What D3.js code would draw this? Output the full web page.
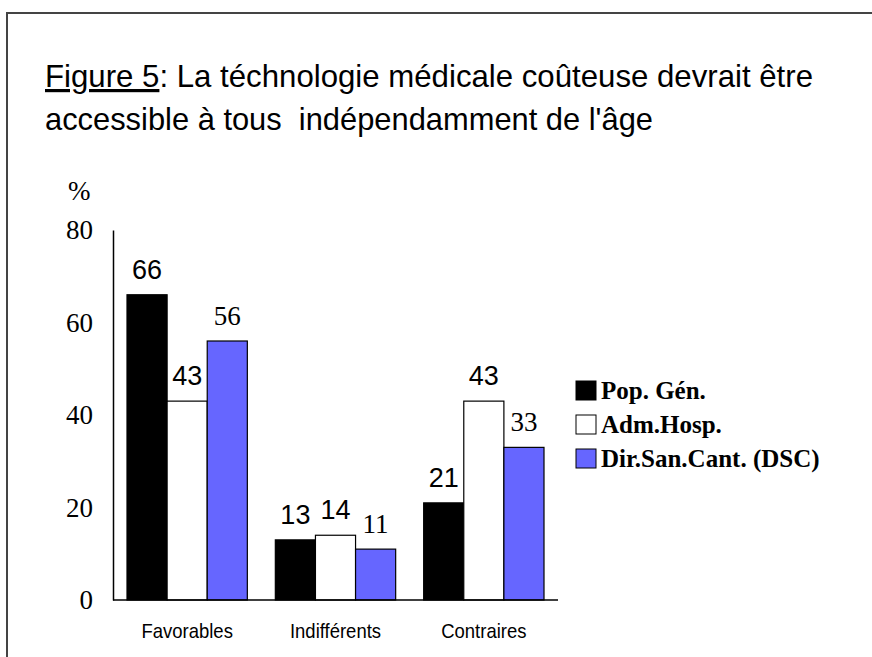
<!DOCTYPE html>
<head>
  <meta charset="utf-8">
  <title>Figure 5</title>
  <style>
    body { margin: 0; background: #fff; }
    svg { display: block; }
  </style>
</head>
<body>
<svg width="872" height="657"></svg>
<script src="https://d3js.org/d3.v7.min.js"></script>
<script>

var categories = ["Favorables", "Indifférents", "Contraires"];
var seriesNames = ["Pop. Gén.", "Adm.Hosp.", "Dir.San.Cant. (DSC)"];
var popGen = [66, 13, 21];
var admHosp = [43, 14, 43];
var dirSan = [56, 11, 33];
var yTicks = [0, 20, 40, 60, 80];

var colors = ["#000000", "#ffffff", "#6666ff"];
// the value labels of the last series are drawn in a serif font in the original
var labelFonts = ["'Liberation Sans', Arial, sans-serif", "'Liberation Sans', Arial, sans-serif", "'Liberation Serif', 'Times New Roman', serif"];

var values = [popGen, admHosp, dirSan];

var svg = d3.select("svg");

// frame (only top and left edges are visible)
svg.append("path")
  .attr("d", "M7,657 V13 H872")
  .attr("fill", "none")
  .attr("stroke", "#444")
  .attr("stroke-width", 2);

// title - narrow font in the original, so squeeze a normal one
var title = svg.append("g")
  .style("font-family", "'Liberation Sans', Arial, sans-serif")
  .style("font-size", "32px")
  .attr("fill", "#000");

var t1 = title.append("text")
  .attr("x", 45).attr("y", 87)
  .attr("textLength", 768)
  .attr("lengthAdjust", "spacingAndGlyphs");
t1.append("tspan").style("text-decoration", "underline").text("Figure 5");
t1.append("tspan").text(": La téchnologie médicale coûteuse devrait être");

title.append("text")
  .attr("x", 45).attr("y", 130)
  .attr("textLength", 608)
  .attr("lengthAdjust", "spacingAndGlyphs")
  .style("white-space", "pre")
  .text("accessible à tous  indépendamment de l'âge");

var plotLeft = 113, plotRight = 558, plotTop = 230, plotBottom = 600;

var y = d3.scaleLinear().domain([0, 80]).range([plotBottom, plotTop]);
var x0 = d3.scaleBand().domain(categories).range([plotLeft, plotRight]).padding(0);
var x1 = d3.scaleBand().domain(seriesNames).range([14, x0.bandwidth() - 14]).padding(0);

// y axis
var yAxis = svg.append("g")
  .attr("transform", "translate(" + plotLeft + ",0)")
  .call(d3.axisLeft(y).tickValues(yTicks).tickSize(0).tickPadding(20));
yAxis.select(".domain").attr("stroke", "#000").attr("stroke-width", 1.5);
yAxis.selectAll("text")
  .style("font-family", "'Liberation Serif', 'Times New Roman', serif")
  .style("font-size", "27px")
  .attr("fill", "#000");

svg.append("text")
  .attr("x", 68).attr("y", 200)
  .style("font-family", "'Liberation Serif', 'Times New Roman', serif")
  .style("font-size", "27px")
  .text("%");

// bars
var groups = svg.selectAll("g.cat")
  .data(categories)
  .join("g")
  .attr("class", "cat")
  .attr("transform", function(d) { return "translate(" + x0(d) + ",0)"; });

function rows(d, i) {
  return seriesNames.map(function(s, j) { return {s: s, j: j, v: values[j][i]}; });
}

groups.selectAll("rect")
  .data(rows)
  .join("rect")
  .attr("x", function(d) { return x1(d.s); })
  .attr("y", function(d) { return y(d.v); })
  .attr("width", x1.bandwidth())
  .attr("height", function(d) { return plotBottom - y(d.v); })
  .attr("fill", function(d) { return colors[d.j]; })
  .attr("stroke", "#000")
  .attr("stroke-width", 1.2);

groups.selectAll("text.val")
  .data(rows)
  .join("text")
  .attr("class", "val")
  .attr("x", function(d) { return x1(d.s) + x1.bandwidth() / 2; })
  .attr("y", function(d) { return y(d.v) - 16; })
  .attr("text-anchor", "middle")
  .style("font-family", function(d) { return labelFonts[d.j]; })
  .style("font-size", "27px")
  .text(function(d) { return d.v; });

// x axis
svg.append("line")
  .attr("x1", plotLeft).attr("x2", plotRight)
  .attr("y1", plotBottom).attr("y2", plotBottom)
  .attr("stroke", "#000").attr("stroke-width", 1.5);

svg.selectAll("text.catlabel")
  .data(categories)
  .join("text")
  .attr("class", "catlabel")
  .attr("x", function(d) { return x0(d) + x0.bandwidth() / 2; })
  .attr("y", 638)
  .attr("text-anchor", "middle")
  .style("font-family", "'Liberation Sans', Arial, sans-serif")
  .style("font-size", "21px")
  .each(function(d) {
    var t = d3.select(this).text(d);
    // narrower look, like the original
    t.attr("textLength", this.getComputedTextLength() * 0.88)
     .attr("lengthAdjust", "spacingAndGlyphs");
  });

// legend
var legend = svg.append("g").attr("transform", "translate(576,381)");
var items = legend.selectAll("g")
  .data(seriesNames)
  .join("g")
  .attr("transform", function(d, i) { return "translate(0," + i * 34 + ")"; });
items.append("rect")
  .attr("width", 20).attr("height", 19)
  .attr("fill", function(d, i) { return colors[i]; })
  .attr("stroke", "#000").attr("stroke-width", 1);
items.append("text")
  .attr("x", 25).attr("y", 18)
  .style("font-family", "'Liberation Serif', 'Times New Roman', serif")
  .style("font-weight", "bold")
  .style("font-size", "25px")
  .text(function(d) { return d; });

</script>
</body>
